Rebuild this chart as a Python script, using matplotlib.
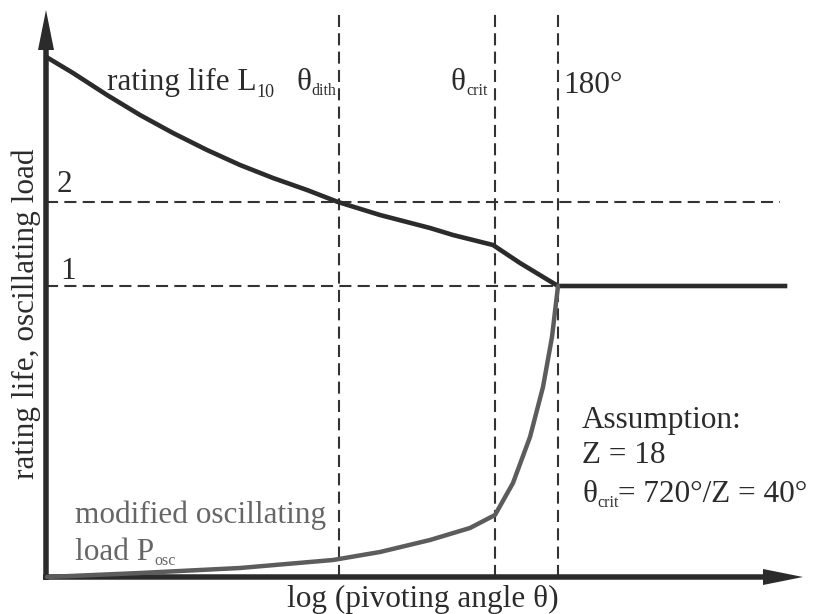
import matplotlib
matplotlib.use("Agg")
import matplotlib.pyplot as plt

# schematic values, in pixels from the axis corner
# (x = log pivoting angle, y = rating life / load)
l10_x = [2, 27, 61, 94, 127, 161, 194, 227, 261, 292, 334, 384, 407, 447, 474, 512, 739]
l10_y = [519, 504, 482, 462, 444, 427, 412, 399, 387, 375, 362, 349, 342, 332, 314, 291, 291]

posc_x = [1, 94, 194, 287, 334, 384, 424, 449, 467, 484, 497, 506, 512]
posc_y = [0, 4, 9, 17, 25, 37, 49, 62, 94, 140, 190, 240, 291]

theta_names = ["dith", "crit", "180"]
theta_pos = [293, 449, 512]
level_names = ["1", "2"]
level_pos = [291, 375]

INK = "#2b2b2b"
GREY = "#5c5c5c"
FONT = "Liberation Serif"

plt.rcParams["font.family"] = [FONT, "DejaVu Serif"]

fig = plt.figure(figsize=(8.15, 6.14), dpi=100)
ax = fig.add_axes([0, 0, 1, 1])
ax.set_xlim(-46, 769)
ax.set_ylim(-37, 577)
ax.axis("off")
r = fig.canvas.get_renderer()


def pieces(x, y, parts, color=INK):
    # draw text runs one after another: (text, size, baseline shift)
    for s, size, dy in parts:
        t = ax.text(x, y + dy, s, fontsize=size, color=color,
                    ha="left", va="baseline")
        x += t.get_window_extent(renderer=r).width


# guide lines
for xp in theta_pos:
    ax.plot([xp, xp], [0, 567], color="#333333", lw=1.5,
            linestyle=(0, (5.8, 3.0)))
for yp in level_pos:
    ax.plot([0, 734], [yp, yp], color="#333333", lw=1.5,
            linestyle=(0, (5.8, 3.0)))

# axes with arrows (data units are pixels here)
ax.arrow(-3, 0, 760, 0, width=5.5, head_width=16, head_length=40,
         length_includes_head=True, lw=0, color=INK, zorder=3)
ax.arrow(0, -3, 0, 570, width=5.5, head_width=16, head_length=40,
         length_includes_head=True, lw=0, color=INK, zorder=3)

# curves
ax.plot(l10_x, l10_y, color=INK, lw=3.3, solid_joinstyle="miter", zorder=4)
ax.plot(posc_x, posc_y, color=GREY, lw=3.2, solid_capstyle="round", zorder=4)

# labels
pieces(61, 487, [("rating life L", 22.5, 0), ("10", 13, -7)])
pieces(250, 487, [("\u03b8", 22.5, 0), ("dith", 11.5, -5)])
pieces(405, 487, [("\u03b8", 22.5, 0), ("crit", 11.5, -5)])
ax.text(517, 484, "180\u00b0", fontsize=22.5, color=INK, ha="left", va="baseline")
ax.text(11, 385, level_names[1], fontsize=22.5, color=INK, ha="left", va="baseline")
ax.text(14, 298, level_names[0], fontsize=22.5, color=INK, ha="left", va="baseline")

ax.text(29, 54, "modified oscillating", fontsize=22.5, color="#666666",
        ha="left", va="baseline")
pieces(29, 17, [("load P", 22.5, 0), ("osc", 11.5, -5)], color="#666666")

ax.text(536, 149, "Assumption:", fontsize=22.5, color=INK, ha="left", va="baseline")
ax.text(536, 114, "Z = 18", fontsize=22.5, color=INK, ha="left", va="baseline")
pieces(536, 75, [("\u03b8", 22.5, 0), ("crit", 11.5, -5),
                 ("= 720\u00b0/Z = 40\u00b0", 22.5, 0)])

ax.text(377, -30, "log (pivoting angle \u03b8)", fontsize=22.5, color=INK,
        ha="center", va="baseline")
ax.text(-20, 263, "rating life, oscillating load", fontsize=22.5, color=INK,
        ha="center", va="center", rotation=90)

fig.savefig("out.png", dpi=100)
